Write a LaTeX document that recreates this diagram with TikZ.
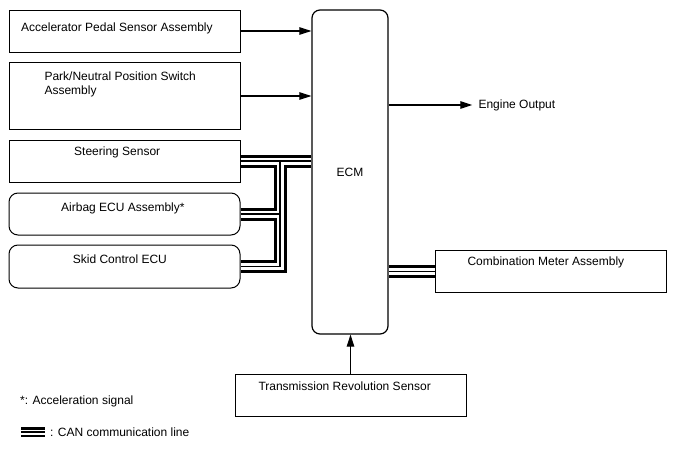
\documentclass[tikz,border=0pt]{standalone}
\usepackage{fontspec}
\setmainfont{Liberation Sans}
\usetikzlibrary{arrows.meta}

\begin{document}
\begin{tikzpicture}[x=1pt,y=-1pt,
  box/.style={draw,line width=1pt,inner sep=0,minimum width=231pt},
  rbox/.style={box,rounded corners=9pt},
  lbl/.style={anchor=base west,inner sep=0,font=\fontsize{12}{14}\selectfont},
  sig/.style={line width=1.1pt,-{Triangle[length=12pt,width=7.5pt]}},
  canout/.style={line width=13pt},
  canmid/.style={line width=7pt,white},
  canin/.style={line width=1.8pt}]
\useasboundingbox (0,0) rectangle (688,463);
\node[box,minimum height=42pt] (aps) at (124.5,31) {};
\node[lbl] (apst) at (21,31) {Accelerator Pedal Sensor Assembly};
\node[box,minimum height=67pt] (pnp) at (124.5,96) {};
\node[lbl,align=left,anchor=north west] (pnpt) at (44.3,71.5) {Park/Neutral Position Switch\\Assembly};
\node[box,minimum height=42pt] (str) at (124.5,161) {};
\node[lbl] (strt) at (74,155) {Steering Sensor};
\node[rbox,minimum height=42pt] (air) at (124.5,214) {};
\node[lbl] (airt) at (61,211) {Airbag ECU Assembly*};
\node[rbox,minimum height=43pt] (skd) at (124.5,266.5) {};
\node[lbl] (skdt) at (72.7,263) {Skid Control ECU};
\node[box,rounded corners=8pt,minimum width=76pt,minimum height=324pt,line width=1.2pt,font=\fontsize{12}{14}\selectfont] (ecm) at (350,172) {ECM};
\node[box,minimum height=42pt] (cmb) at (550.5,271.5) {};
\node[lbl] (cmbt) at (467.3,265) {Combination Meter Assembly};
\node[box,minimum height=42pt] (trs) at (350.5,395) {};
\node[lbl] (trst) at (258.3,390) {Transmission Revolution Sensor};
\node[lbl,anchor=west] (eng) at (478.3,105) {Engine Output};
\node[lbl] (accs) at (20,404) {*: Acceleration signal};
\node[lbl] (canl) at (50,436) {: CAN communication line};
\coordinate (bus) at (280,161);
\coordinate (keya) at (21,432);
\coordinate (keyb) at (45,432);
\draw[sig] (aps.east) -- (aps.east -| ecm.west);
\draw[sig] (pnp.east) -- (pnp.east -| ecm.west);
\draw[sig] (ecm.east |- eng.west) -- ([xshift=-6pt]eng.west);
\draw[sig] (trs.north) -- (trs.north |- ecm.south);
\foreach \s in {canout,canmid,canin} {
  \draw[\s] (str.east) -- (str.east -| ecm.west);
  \draw[\s] (bus) -- (bus |- skd.east) -- (skd.east);
  \draw[\s] (air.east) -- (air.east -| bus);
  \draw[\s] (cmb.west) -- (cmb.west -| ecm.east);
}
\draw[line width=10.5pt] (keya) -- (keyb);
\draw[line width=5pt,white] (keya) -- (keyb);
\draw[line width=2pt] (keya) -- (keyb);
\end{tikzpicture}
\end{document}
